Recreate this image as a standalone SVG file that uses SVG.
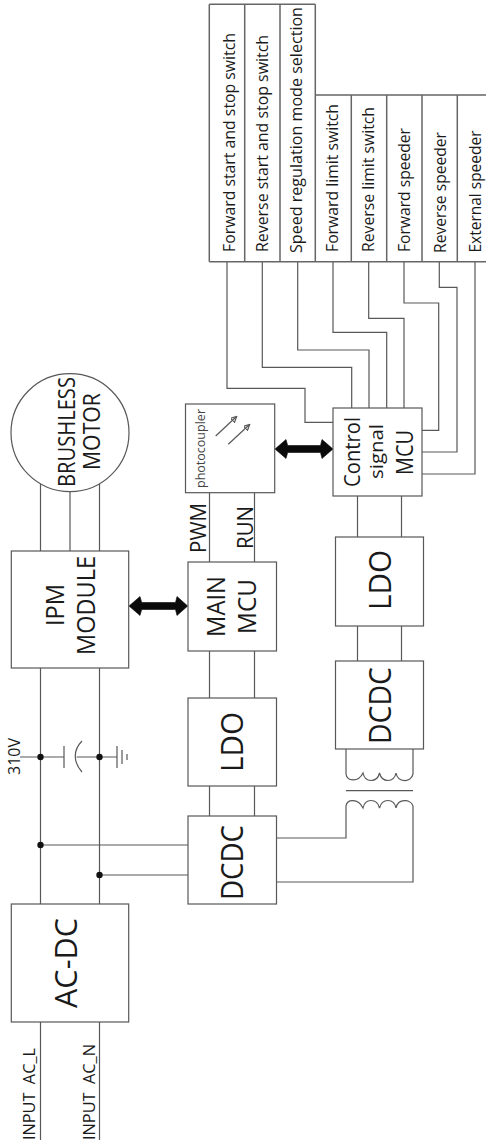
<svg xmlns="http://www.w3.org/2000/svg" width="486" height="1143" viewBox="0 0 486 1143">
<style>
rect,circle,path,line{fill:none;stroke:#585858;stroke-width:1.2}
rect.bg{fill:#fff;stroke:none}
.dot{fill:#111;stroke:none}
.ar{fill:#0a0a0a;stroke:#0a0a0a;stroke-width:.6}
.tb{stroke:#666;stroke-width:1.5}
text{font-family:"Open Sans","Liberation Sans",sans-serif;fill:#1a1a1a}
.s{font-size:16.5px}
.i{font-size:17px}
.m{font-size:25px}
.l{font-size:31px}
.n{font-size:21px}
</style>
<defs><marker id="tip" markerWidth="7" markerHeight="7" refX="5" refY="3" orient="auto" markerUnits="userSpaceOnUse"><path d="M0 0L6 3L0 6Z" fill="#222" stroke="none"/></marker></defs>
<rect class="bg" width="486" height="1143"/>
<g id="connectors">
<path d="M40.5 551V484M70 551V491M99.5 551V484"/>
<path d="M40.5 668V904M99.5 668V904"/>
<path d="M40.5 1022V1140M99.5 1022V1140"/>
<path d="M40.5 845H188M99.5 875H188"/>
<path d="M209.5 493V562M254.5 493V562M209.5 651V698M254.5 651V698M209.5 786V816M254.5 786V816"/>
<path d="M277 838H346V806M277 882H413V806"/>
<path d="M357.5 496V537M401.5 496V537M357.5 626V661M401.5 626V661"/>
<path d="M227 262V388.3H305V422.3H333"/>
<path d="M262.3 262V367.3H351.7V408"/>
<path d="M297.7 262V350H369V408"/>
<path d="M333 262V332.3H386.7V408"/>
<path d="M368.7 262V318.3H404V408"/>
<path d="M404 262V303H438.7V430.3H422"/>
<path d="M439.3 262V287.3H457V452H422"/>
<path d="M475 262V474H422"/>
<polygon class="ar" points="129,606 140,596.5 141.7,602.5 175.5,602.5 177,596.5 187.7,606 177,615.5 175.5,609.5 141.7,609.5 140,615.5"/>
<polygon class="ar" points="275,449 286,439.5 287.7,445.5 320.5,445.5 322,439.5 333,449 322,458.5 320.5,452.5 287.7,452.5 286,458.5"/>
</g>
<g id="bus-caps">
<path d="M20 757H64M76.5 757H117M64 746V768M117 746V768M122 750V764M127 754V760"/>
<path d="M82 741C73 750 73 762 82 772"/>
<circle class="dot" cx="40.5" cy="757" r="3.2"/>
<circle class="dot" cx="99.5" cy="757" r="3.2"/>
<circle class="dot" cx="40.5" cy="845" r="3.2"/>
<circle class="dot" cx="99.5" cy="875" r="3.2"/>
<text class="i" transform="translate(20,775) rotate(-90)" textLength="37" lengthAdjust="spacingAndGlyphs">310V</text>
</g>
<g id="input-l"><text class="i" transform="translate(35,1140) rotate(-90)" textLength="92" lengthAdjust="spacingAndGlyphs">INPUT&#160;&#160;AC_L</text></g>
<g id="input-n"><text class="i" transform="translate(95,1140) rotate(-90)" textLength="96" lengthAdjust="spacingAndGlyphs">INPUT&#160;&#160;AC_N</text></g>
<g id="ac-dc"><rect x="11.3" y="904" width="117.4" height="118"/><text class="l" transform="translate(77,1008) rotate(-90)" textLength="90" lengthAdjust="spacingAndGlyphs">AC-DC</text></g>
<g id="ipm"><rect x="11.3" y="551" width="117.4" height="117"/>
<text class="m" transform="translate(64,626) rotate(-90)" textLength="42" lengthAdjust="spacingAndGlyphs">IPM</text>
<text class="m" transform="translate(95,655) rotate(-90)" textLength="99" lengthAdjust="spacingAndGlyphs">MODULE</text></g>
<g id="motor"><circle cx="70" cy="432.7" r="59"/>
<text style="font-size:23px" transform="translate(75,487) rotate(-90)" textLength="110" lengthAdjust="spacingAndGlyphs">BRUSHLESS</text>
<text style="font-size:23px" transform="translate(100,470) rotate(-90)" textLength="77" lengthAdjust="spacingAndGlyphs">MOTOR</text></g>
<g id="dcdc1"><rect x="188" y="816" width="88.5" height="88"/><text class="l" transform="translate(243,900) rotate(-90)" textLength="75" lengthAdjust="spacingAndGlyphs">DCDC</text></g>
<g id="ldo1"><rect x="188" y="698" width="88.5" height="88"/><text class="l" transform="translate(243,772) rotate(-90)" textLength="60" lengthAdjust="spacingAndGlyphs">LDO</text></g>
<g id="main-mcu"><rect x="188" y="562" width="88.5" height="89"/>
<text class="m" transform="translate(225,637) rotate(-90)" textLength="61" lengthAdjust="spacingAndGlyphs">MAIN</text>
<text class="m" transform="translate(256,634) rotate(-90)" textLength="55" lengthAdjust="spacingAndGlyphs">MCU</text></g>
<g id="pwm"><text class="n" transform="translate(206,553) rotate(-90)" textLength="50" lengthAdjust="spacingAndGlyphs">PWM</text></g>
<g id="run"><text class="n" transform="translate(252.5,549) rotate(-90)" textLength="43" lengthAdjust="spacingAndGlyphs">RUN</text></g>
<g id="photocoupler"><rect x="185.5" y="404" width="89.2" height="88.7"/>
<text style="font-size:13px;fill:#444" transform="translate(205,488) rotate(-90)" textLength="79" lengthAdjust="spacingAndGlyphs">photocoupler</text>
<path d="M215.7 436L236 417" marker-end="url(#tip)"/><path d="M228.3 444.3L249 425" marker-end="url(#tip)"/></g>
<g id="control-mcu"><rect x="333" y="408" width="89" height="88"/>
<text style="font-size:22px" transform="translate(360,487) rotate(-90)" textLength="70" lengthAdjust="spacingAndGlyphs">Control</text>
<text style="font-size:19px" transform="translate(383,479) rotate(-90)" textLength="55" lengthAdjust="spacingAndGlyphs">signal</text>
<text style="font-size:23px" transform="translate(412.5,475) rotate(-90)" textLength="45" lengthAdjust="spacingAndGlyphs">MCU</text></g>
<g id="ldo2"><rect x="335.5" y="537" width="88" height="89"/><text class="l" transform="translate(391,610) rotate(-90)" textLength="60" lengthAdjust="spacingAndGlyphs">LDO</text></g>
<g id="dcdc2"><rect x="335.5" y="661" width="88" height="88"/><text class="l" transform="translate(391,744) rotate(-90)" textLength="77" lengthAdjust="spacingAndGlyphs">DCDC</text></g>
<g id="transformer">
<path d="M346 749V774C347 781 358 783 363 773C365 783 377 783 379.5 773C382 783 394 783 396 773C398 783 411 783 413 774V749"/>
<path d="M346 790.7H413"/>
<path d="M346 806C347 799 358 798 363 808C365 798 377 798 379.5 808C382 798 394 798 396 808C398 798 411 799 413 806"/>
</g>
<g id="switches">
<path class="tb" d="M315.3 95H486M209.3 4.3H315.3M209.3 4.3V261.7M244.7 4.3V261.7M280 4.3V261.7M315.3 4.3V261.7M351.3 95V261.7M386.7 95V261.7M422 95V261.7M457.3 95V261.7M209.3 261.7H486"/>
<text class="s" transform="translate(235,252) rotate(-90)" textLength="219" lengthAdjust="spacingAndGlyphs">Forward start and stop switch</text>
<text class="s" transform="translate(268,252) rotate(-90)" textLength="217" lengthAdjust="spacingAndGlyphs">Reverse start and stop switch</text>
<text class="s" transform="translate(301.7,253) rotate(-90)" textLength="246" lengthAdjust="spacingAndGlyphs">Speed regulation mode selection</text>
<text class="s" transform="translate(338,252) rotate(-90)" textLength="148" lengthAdjust="spacingAndGlyphs">Forward limit switch</text>
<text class="s" transform="translate(374,252) rotate(-90)" textLength="145" lengthAdjust="spacingAndGlyphs">Reverse limit switch</text>
<text class="s" transform="translate(410,252) rotate(-90)" textLength="124" lengthAdjust="spacingAndGlyphs">Forward speeder</text>
<text class="s" transform="translate(446,253) rotate(-90)" textLength="121" lengthAdjust="spacingAndGlyphs">Reverse speeder</text>
<text class="s" transform="translate(481,252.5) rotate(-90)" textLength="122" lengthAdjust="spacingAndGlyphs">External speeder</text>
</g>
</svg>
